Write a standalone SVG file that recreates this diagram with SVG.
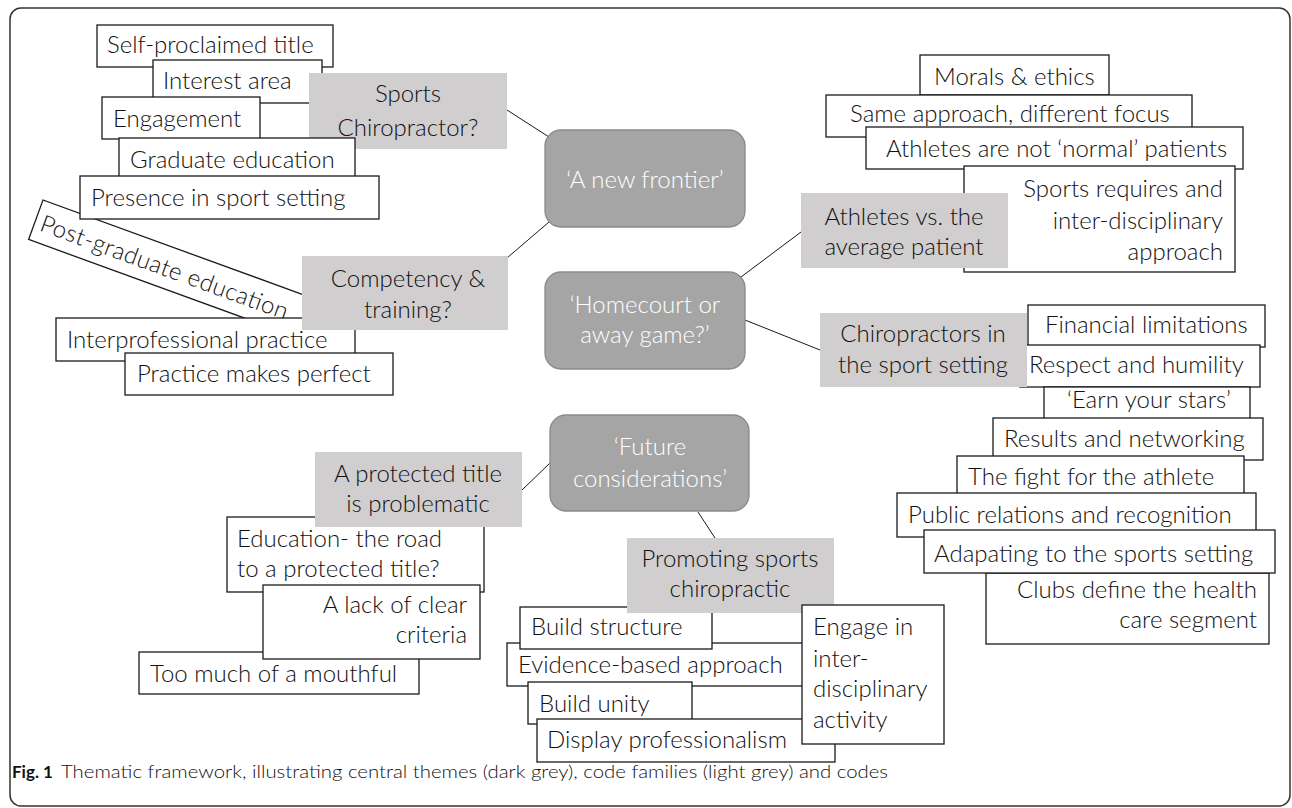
<svg xmlns="http://www.w3.org/2000/svg" width="1292" height="808" viewBox="0 0 1292 808">
<style>
.c rect{fill:#fff;stroke:#1a1a1a;stroke-width:1.3}
.f rect{fill:#d0cece}
.th rect{fill:#a5a5a5;stroke:#8a8a8a;stroke-width:1.3}
text{font-family:Lato,"Open Sans","Liberation Sans",sans-serif;font-size:24px;font-weight:300;fill:#111}
.th text{fill:#fff;text-anchor:middle}
.f text{text-anchor:middle}
.e{text-anchor:end}
#conn line{stroke:#1a1a1a;stroke-width:1}
.cap{font-family:Lato,"Liberation Sans",Arial,sans-serif;font-size:17px;font-weight:300;fill:#111}
</style>
<rect x="10" y="8" width="1280" height="798" rx="11" fill="none" stroke="#333" stroke-width="1.5"/>
<g id="conn">
<line x1="507" y1="110" x2="549" y2="137"/>
<line x1="507" y1="258" x2="549" y2="222"/>
<line x1="741" y1="277" x2="801" y2="232"/>
<line x1="745" y1="320" x2="820" y2="350"/>
<line x1="522" y1="490" x2="550" y2="463"/>
<line x1="698" y1="512" x2="715" y2="538"/>
</g>
<g id="n-postgrad" class="c" transform="rotate(20 43 200)"><rect x="43" y="200" width="286" height="42"/><text x="49" y="230" textLength="262">Post-graduate education</text></g>
<g id="n-self" class="c"><rect x="97" y="25" width="236" height="42"/><text x="107" y="53">Self-proclaimed title</text></g>
<g id="n-interest" class="c"><rect x="153" y="60" width="169" height="43"/><text x="163" y="89">Interest area</text></g>
<g id="n-engagement" class="c"><rect x="102" y="97" width="158" height="42"/><text x="113" y="127">Engagement</text></g>
<g id="f-sports" class="f"><rect x="309" y="73" width="198" height="76"/><text x="408" y="102">Sports</text><text x="408" y="136">Chiropractor?</text></g>
<g id="n-graduate" class="c"><rect x="119" y="138" width="236" height="43"/><text x="130" y="168">Graduate education</text></g>
<g id="n-presence" class="c"><rect x="80" y="176" width="299" height="43"/><text x="91" y="206">Presence in sport setting</text></g>
<g id="n-interprof" class="c"><rect x="56" y="318" width="299" height="43"/><text x="67" y="348">Interprofessional practice</text></g>
<g id="f-competency" class="f"><rect x="302" y="256" width="206" height="74"/><text x="408" y="287">Competency &amp;</text><text x="408" y="318">training?</text></g>
<g id="n-practice" class="c"><rect x="125" y="353" width="268" height="42"/><text x="137" y="382">Practice makes perfect</text></g>
<g id="t-frontier" class="th"><rect x="545" y="130" width="200" height="97" rx="16"/><text x="645" y="188">‘A new frontier’</text></g>
<g id="t-homecourt" class="th"><rect x="545" y="272" width="200" height="97" rx="16"/><text x="645" y="313">‘Homecourt or</text><text x="645" y="343">away game?’</text></g>
<g id="t-future" class="th"><rect x="550" y="415" width="199" height="96" rx="16"/><text x="650" y="455">‘Future</text><text x="650" y="487">considerations’</text></g>
<g id="n-morals" class="c"><rect x="920" y="55" width="189" height="40"/><text x="934" y="85">Morals &amp; ethics</text></g>
<g id="n-same" class="c"><rect x="826" y="95" width="366" height="42"/><text x="850" y="122">Same approach, different focus</text></g>
<g id="n-notnormal" class="c"><rect x="866" y="127" width="377" height="42"/><text x="886" y="157">Athletes are not ‘normal’ patients</text></g>
<g id="n-sportsreq" class="c"><rect x="964" y="166" width="271" height="106"/><text class="e" x="1223" y="197">Sports requires and</text><text class="e" x="1223" y="229">inter-disciplinary</text><text class="e" x="1223" y="260">approach</text></g>
<g id="f-athletes" class="f"><rect x="801" y="193" width="207" height="75"/><text x="904" y="225">Athletes vs. the</text><text x="904" y="255">average patient</text></g>
<g id="n-financial" class="c"><rect x="1028" y="305" width="237" height="42"/><text x="1045" y="333">Financial limitations</text></g>
<g id="n-respect" class="c"><rect x="1020" y="345" width="240" height="42"/><text x="1029" y="373">Respect and humility</text></g>
<g id="f-chiro" class="f"><rect x="820" y="313" width="207" height="74"/><text x="923" y="342">Chiropractors in</text><text x="923" y="373">the sport setting</text></g>
<g id="n-earn" class="c"><rect x="1044" y="387" width="206" height="38"/><text x="1067" y="408">‘Earn your stars’</text></g>
<g id="n-results" class="c"><rect x="993" y="418" width="270" height="42"/><text x="1004" y="447">Results and networking</text></g>
<g id="n-fight" class="c"><rect x="957" y="456" width="287" height="42"/><text x="968" y="485">The fight for the athlete</text></g>
<g id="n-public" class="c"><rect x="897" y="493" width="359" height="44"/><text x="908" y="523">Public relations and recognition</text></g>
<g id="n-clubs" class="c"><rect x="986" y="573" width="283" height="71"/><text class="e" x="1257" y="598">Clubs define the health</text><text class="e" x="1257" y="628">care segment</text></g>
<g id="n-adapt" class="c"><rect x="924" y="530" width="351" height="43"/><text x="934" y="562">Adapating to the sports setting</text></g>
<g id="n-education" class="c"><rect x="227" y="517" width="257" height="75"/><text x="237" y="547">Education- the road</text><text x="237" y="577">to a protected title?</text></g>
<g id="f-protected" class="f"><rect x="315" y="452" width="207" height="75"/><text x="418" y="482">A protected title</text><text x="418" y="512">is problematic</text></g>
<g id="n-mouthful" class="c"><rect x="139" y="652" width="280" height="42"/><text x="150" y="682">Too much of a mouthful</text></g>
<g id="n-lack" class="c"><rect x="263" y="585" width="217" height="74"/><text class="e" x="467" y="613">A lack of clear</text><text class="e" x="467" y="643">criteria</text></g>
<g id="n-evidence" class="c"><rect x="507" y="643" width="298" height="43"/><text x="518" y="673">Evidence-based approach</text></g>
<g id="n-structure" class="c"><rect x="520" y="607" width="192" height="42"/><text x="531" y="635">Build structure</text></g>
<g id="f-promoting" class="f"><rect x="627" y="538" width="207" height="75"/><text x="730" y="567">Promoting sports</text><text x="730" y="597">chiropractic</text></g>
<g id="n-unity" class="c"><rect x="528" y="682" width="164" height="42"/><text x="539" y="712">Build unity</text></g>
<g id="n-display" class="c"><rect x="537" y="719" width="298" height="43"/><text x="547" y="748">Display professionalism</text></g>
<g id="n-engage" class="c"><rect x="802" y="605" width="142" height="139"/><text x="813" y="635">Engage in</text><text x="813" y="667">inter-</text><text x="813" y="697">disciplinary</text><text x="813" y="728">activity</text></g>
<text class="cap" x="12" y="778" style="font-weight:bold">Fig. 1</text>
<text class="cap" x="61" y="778" textLength="827" lengthAdjust="spacingAndGlyphs">Thematic framework, illustrating central themes (dark grey), code families (light grey) and codes</text>
</svg>
